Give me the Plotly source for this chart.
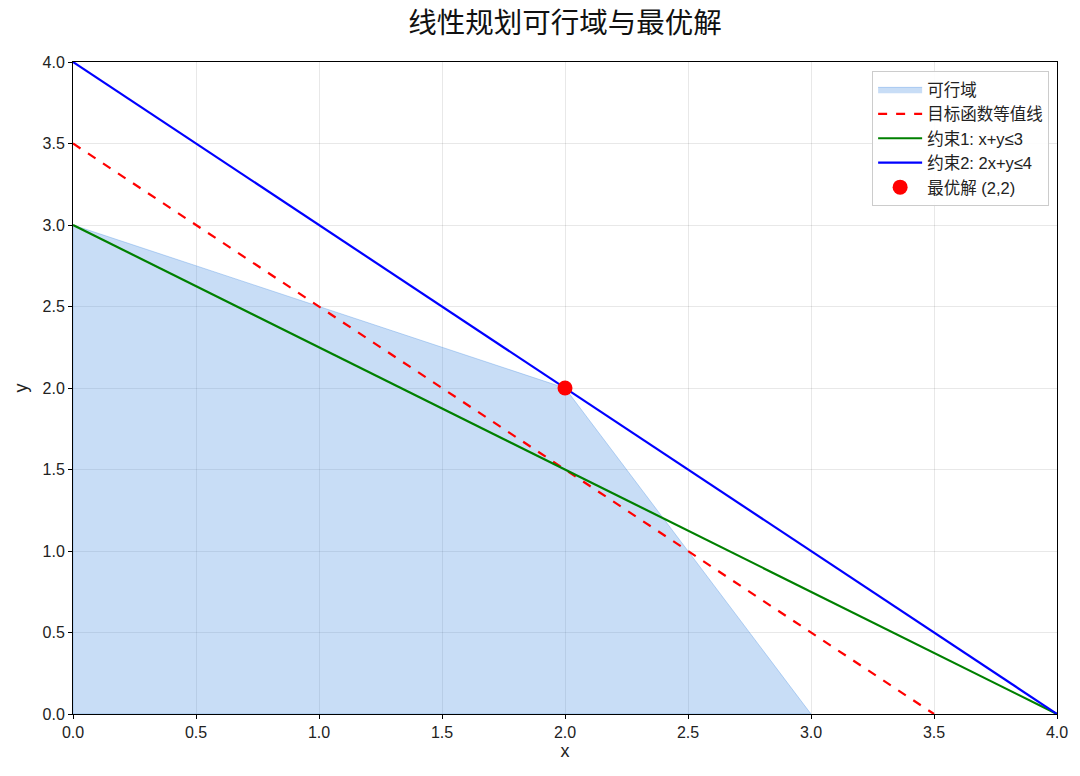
import plotly.graph_objects as go

# Data
region_x = [0, 0, 2, 3, 0]
region_y = [0, 3, 2, 0, 0]
objective_x = [0, 3.5]
objective_y = [3.5, 0]
c1_x = [0, 4]
c1_y = [3, 0]
c2_x = [0, 4]
c2_y = [4, 0]
opt_x = [2]
opt_y = [2]
tick_vals = [0, 0.5, 1, 1.5, 2, 2.5, 3, 3.5, 4]
tick_text = ["0.0", "0.5", "1.0", "1.5", "2.0", "2.5", "3.0", "3.5", "4.0"]

FONT = "Liberation Sans, Noto Sans CJK SC, DejaVu Sans, sans-serif"

fig = go.Figure()
fig.add_trace(go.Scatter(
    x=region_x, y=region_y, mode="lines", fill="toself",
    fillcolor="rgba(74,144,226,0.3)",
    line=dict(color="rgba(74,144,226,0.35)", width=1),
    name="可行域"))
fig.add_trace(go.Scatter(
    x=objective_x, y=objective_y, mode="lines",
    line=dict(color="#ff0000", width=2.2, dash="dash"),
    name="目标函数等值线"))
fig.add_trace(go.Scatter(
    x=c1_x, y=c1_y, mode="lines",
    line=dict(color="#008000", width=2.2),
    name="约束1: x+y≤3"))
fig.add_trace(go.Scatter(
    x=c2_x, y=c2_y, mode="lines",
    line=dict(color="#0000ff", width=2.2),
    name="约束2: 2x+y≤4"))
fig.add_trace(go.Scatter(
    x=opt_x, y=opt_y, mode="markers",
    marker=dict(color="#ff0000", size=15),
    name="最优解 (2,2)"))

axis_common = dict(
    range=[0, 4], tickvals=tick_vals, ticktext=tick_text,
    showgrid=True, gridcolor="rgba(0,0,0,0.09)", gridwidth=1,
    zeroline=False, showline=True, linecolor="#000000", linewidth=1,
    mirror=True, ticks="outside", ticklen=4, tickcolor="#000000",
    tickfont=dict(size=16, color="#222222", family=FONT),
    automargin=False,
)

fig.update_layout(
    width=1064, height=760,
    paper_bgcolor="white", plot_bgcolor="white",
    margin=dict(l=65, r=15, t=54, b=54),
    title=dict(text="线性规划可行域与最优解", x=0.5, xref="paper", xanchor="center",
               y=1, yref="container", yanchor="top", pad=dict(t=5),
               font=dict(size=28.5, color="#111111", family="Noto Sans CJK SC, sans-serif")),
    font=dict(family=FONT),
    xaxis=dict(axis_common, title=dict(text="x", font=dict(size=18, color="#222222"), standoff=4)),
    yaxis=dict(axis_common, title=dict(text="y", font=dict(size=18, color="#222222"), standoff=10)),
    legend=dict(x=0.992, y=0.986, xanchor="right", yanchor="top",
                bgcolor="rgba(255,255,255,0.9)", bordercolor="#cccccc", borderwidth=1,
                font=dict(size=16.5, color="#222222", family=FONT),
                itemwidth=44, tracegroupgap=4),
    showlegend=True,
)

fig.write_html("out.html")
